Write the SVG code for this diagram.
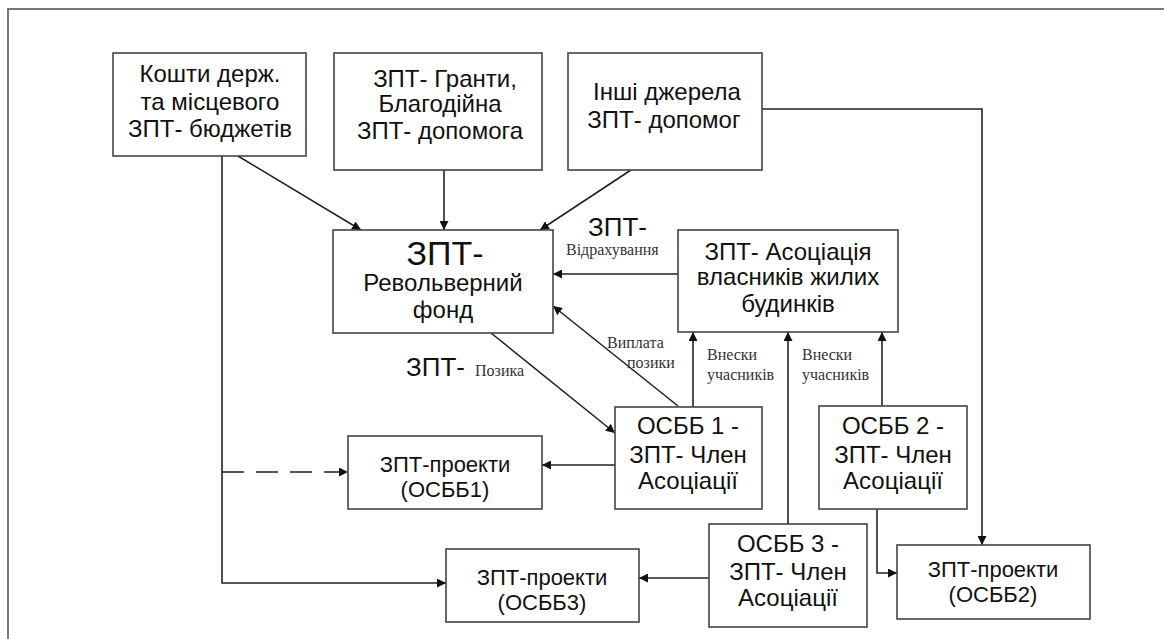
<svg xmlns="http://www.w3.org/2000/svg" width="1164" height="639" viewBox="0 0 1164 639">
<style>
.box{fill:#fff;stroke:#444;stroke-width:1.6}
.t{font-family:"Liberation Sans",Arial,sans-serif;font-size:24px;fill:#111;text-anchor:middle}
.p{font-family:"Liberation Sans",Arial,sans-serif;font-size:22px;fill:#111;text-anchor:middle}
.s{font-family:"Liberation Serif","Times New Roman",serif;font-size:16px;fill:#333}
.big{font-family:"Liberation Sans",Arial,sans-serif;font-size:26px;fill:#111}
.c{fill:none;stroke:#222;stroke-width:1.6}
</style>
<defs>
<marker id="ah" viewBox="0 0 10 10" refX="10" refY="5" markerWidth="9" markerHeight="9" markerUnits="userSpaceOnUse" orient="auto"><path d="M0,0 L10,5 L0,10 z" fill="#111"/></marker>
</defs>
<rect width="1164" height="639" fill="#fff"/>
<path d="M8,639 V9 H1164" fill="none" stroke="#777" stroke-width="2"/>

<g id="connectors">
<path class="c" d="M238,156 L361,230" marker-end="url(#ah)"/>
<path class="c" d="M444,170 V230" marker-end="url(#ah)"/>
<path class="c" d="M631,170 L540,230" marker-end="url(#ah)"/>
<path class="c" d="M762,109 H982 V545" marker-end="url(#ah)"/>
<path class="c" d="M678,274 H553" marker-end="url(#ah)"/>
<path class="c" d="M678,406 L553,306" marker-end="url(#ah)"/>
<path class="c" d="M491,333 L615,433" marker-end="url(#ah)"/>
<path class="c" d="M693,407 V332" marker-end="url(#ah)"/>
<path class="c" d="M788,524 V332" marker-end="url(#ah)"/>
<path class="c" d="M882,406 V332" marker-end="url(#ah)"/>
<path class="c" d="M615,465 H542" marker-end="url(#ah)"/>
<path class="c" d="M709,578 H639" marker-end="url(#ah)"/>
<path class="c" d="M877,509 V573 H897" marker-end="url(#ah)"/>
<path class="c" d="M222,156 V583 H446" marker-end="url(#ah)"/>
<path class="c" d="M222,472 H348" stroke-dasharray="22,12" marker-end="url(#ah)"/>
<text class="big" x="588" y="236">ЗПТ-</text>
<text class="s" x="566" y="255">Відрахування</text>
<text class="s" x="607" y="348">Виплата</text>
<text class="s" x="627" y="368">позики</text>
<text class="big" x="406" y="376">ЗПТ-</text>
<text class="s" x="475" y="376">Позика</text>
<text class="s" x="707" y="360">Внески</text>
<text class="s" x="707" y="380">учасників</text>
<text class="s" x="802" y="360">Внески</text>
<text class="s" x="802" y="380">учасників</text>
</g>

<g id="budget">
<rect class="box" x="113" y="53" width="193" height="103"/>
<text class="t" x="210" y="82">Кошти держ.</text>
<text class="t" x="210" y="110">та місцевого</text>
<text class="t" x="210" y="137">ЗПТ- бюджетів</text>
</g>
<g id="grants">
<rect class="box" x="334" y="53" width="208" height="117"/>
<text class="t" x="445" y="87">ЗПТ- Гранти,</text>
<text class="t" x="440" y="112">Благодійна</text>
<text class="t" x="440" y="139">ЗПТ- допомога</text>
</g>
<g id="other">
<rect class="box" x="568" y="53" width="194" height="117"/>
<text class="t" x="667" y="100">Інші джерела</text>
<text class="t" x="664" y="128">ЗПТ- допомог</text>
</g>
<g id="fund">
<rect class="box" x="333" y="230" width="220" height="103"/>
<text class="t" x="445" y="265" style="font-size:34px">ЗПТ-</text>
<text class="t" x="443" y="291">Револьверний</text>
<text class="t" x="443" y="318">фонд</text>
</g>
<g id="association">
<rect class="box" x="678" y="230" width="220" height="102"/>
<text class="t" x="788" y="260">ЗПТ- Асоціація</text>
<text class="t" x="788" y="285">власників жилих</text>
<text class="t" x="788" y="312">будинків</text>
</g>
<g id="osbb1">
<rect class="box" x="615" y="407" width="147" height="102"/>
<text class="t" x="688" y="434">ОСББ 1 -</text>
<text class="t" x="688" y="463">ЗПТ- Член</text>
<text class="t" x="688" y="489">Асоціації</text>
</g>
<g id="osbb2">
<rect class="box" x="819" y="406" width="148" height="103"/>
<text class="t" x="893" y="434">ОСББ 2 -</text>
<text class="t" x="893" y="463">ЗПТ- Член</text>
<text class="t" x="893" y="489">Асоціації</text>
</g>
<g id="osbb3">
<rect class="box" x="709" y="524" width="158" height="103"/>
<text class="t" x="788" y="552">ОСББ 3 -</text>
<text class="t" x="788" y="580">ЗПТ- Член</text>
<text class="t" x="788" y="606">Асоціації</text>
</g>
<g id="proj1">
<rect class="box" x="348" y="436" width="194" height="73"/>
<text class="p" x="445" y="472">ЗПТ-проекти</text>
<text class="p" x="445" y="497">(ОСББ1)</text>
</g>
<g id="proj3">
<rect class="box" x="446" y="549" width="193" height="73"/>
<text class="p" x="542" y="585">ЗПТ-проекти</text>
<text class="p" x="542" y="610">(ОСББ3)</text>
</g>
<g id="proj2">
<rect class="box" x="897" y="545" width="193" height="74"/>
<text class="p" x="993" y="577">ЗПТ-проекти</text>
<text class="p" x="993" y="602">(ОСББ2)</text>
</g>
</svg>
